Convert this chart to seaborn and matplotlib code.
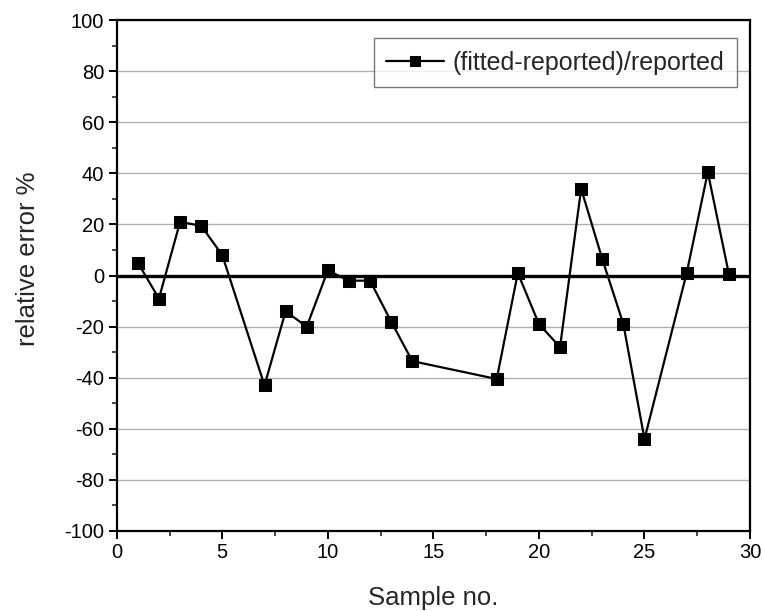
import matplotlib
matplotlib.use("Agg")
import matplotlib.pyplot as plt
from matplotlib.ticker import MultipleLocator
import seaborn as sns
import pandas as pd

# Sample numbers and relative error of fitted vs. reported values
sample_no = [1, 2, 3, 4, 5, 7, 8, 9, 10, 11, 12, 13, 14, 18, 19, 20, 21, 22, 23, 24, 25, 27, 28, 29]
rel_error = [5, -9, 21, 19.5, 8, -43, -14, -20, 2, -2, -2, -18, -33.5, -40.5, 1, -19, -28, 34, 6.5, -19, -64, 1, 40.5, 0.5]
series_label = "(fitted-reported)/reported"

df = pd.DataFrame({"Sample no.": sample_no, "relative error %": rel_error})

sns.set_theme(style="ticks")
plt.rcParams["font.family"] = ["Liberation Sans", "DejaVu Sans"]
plt.rcParams["axes.unicode_minus"] = False

fig = plt.figure(figsize=(7.63, 6.11), dpi=100)
ax = fig.add_axes([0.153, 0.131, 0.830, 0.836])

for v in range(-100, 101, 20):
    if v == 0:
        ax.axhline(0, color="black", lw=2.4, zorder=1)
    else:
        ax.axhline(v, color="#b0b0b0", lw=1.0, zorder=0)

sns.lineplot(data=df, x="Sample no.", y="relative error %", ax=ax, color="black",
             lw=1.6, marker="s", markersize=9, markeredgecolor="black",
             markerfacecolor="black", label=series_label, zorder=3)

ax.set_xlim(0, 30)
ax.set_ylim(-100, 100)
ax.xaxis.set_major_locator(MultipleLocator(5))
ax.xaxis.set_minor_locator(MultipleLocator(2.5))
ax.yaxis.set_major_locator(MultipleLocator(20))
ax.yaxis.set_minor_locator(MultipleLocator(10))
ax.tick_params(which="major", direction="out", length=6, width=1.4, labelsize=14.5,
               colors="black", pad=3)
ax.tick_params(which="minor", direction="out", length=3.5, width=1.2)
for s in ax.spines.values():
    s.set_linewidth(1.6)
    s.set_color("black")
    s.set_visible(True)

ax.set_xlabel("Sample no.", fontsize=18.5, labelpad=17)
ax.set_ylabel("relative error %", fontsize=18.5)
ax.yaxis.set_label_coords(-0.121, 0.532)

leg = ax.legend(loc="upper right", fontsize=18, frameon=True, fancybox=False,
                handlelength=2.3, handletextpad=0.35, borderpad=0.5,
                borderaxespad=0, markerscale=0.75,
                bbox_to_anchor=(0.979, 0.965))
leg.get_frame().set_edgecolor("#555555")
leg.get_frame().set_linewidth(1.0)

fig.savefig("out.png", dpi=100)
